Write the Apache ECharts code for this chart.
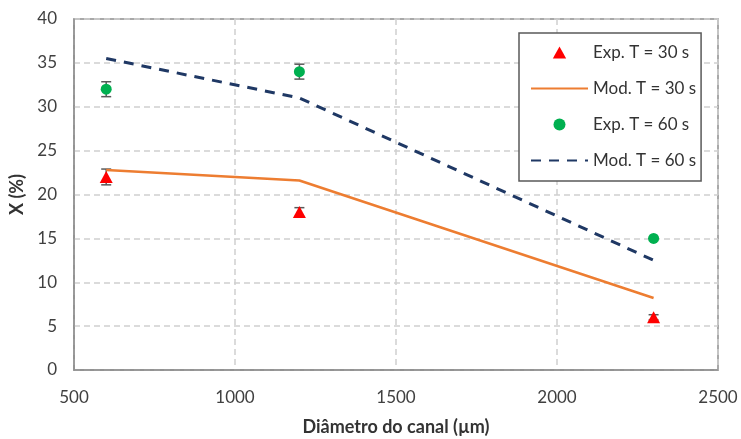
<!DOCTYPE html>
<html>
<head>
<meta charset="utf-8">
<script src="https://cdn.jsdelivr.net/npm/echarts@6/dist/echarts.min.js"></script>
<style>
  html, body { margin: 0; padding: 0; background: #fff; }
  #chart { width: 741px; height: 439px; }
</style>
</head>
<body>
<div id="chart"></div>
<script>
// channel diameters (µm)
const diameters = [600, 1200, 2300];

// experimental conversion X (%) with error half-widths
const exp30 = [22, 18, 6];
const exp30Err = [0.9, 0.5, 0.3];
const exp60 = [32, 34, 15];
const exp60Err = [0.85, 0.85, 0];

// model predictions
const mod30 = [22.8, 21.6, 8.2];
const mod60 = [35.5, 31, 12.5];

const FONT = 'Lato, "Open Sans", sans-serif';
const chart = echarts.init(document.getElementById('chart'));

const pairs = (ys) => diameters.map((x, i) => [x, ys[i]]);
const errData = (ys, err) => diameters.map((x, i) => [x, ys[i] - err[i], ys[i] + err[i]]);

// draws vertical error bar with caps via the axis scales
function errorBar(params, api) {
  const lo = api.coord([api.value(0), api.value(1)]);
  const hi = api.coord([api.value(0), api.value(2)]);
  const cap = 5;
  const style = { stroke: '#595959', lineWidth: 1.5 };
  return {
    type: 'group',
    children: [
      { type: 'line', shape: { x1: lo[0], y1: lo[1], x2: hi[0], y2: hi[1] }, style },
      { type: 'line', shape: { x1: lo[0] - cap, y1: lo[1], x2: lo[0] + cap, y2: lo[1] }, style },
      { type: 'line', shape: { x1: hi[0] - cap, y1: hi[1], x2: hi[0] + cap, y2: hi[1] }, style }
    ]
  };
}

const option = {
  animation: false,
  textStyle: { fontFamily: FONT },
  grid: {
    left: 74,
    right: 23,
    top: 19,
    bottom: 69,
    containLabel: false,
    outerBoundsMode: 'none',
    show: true,
    borderColor: '#8c8c8c',
    borderWidth: 1.5
  },
  legend: {
    orient: 'vertical',
    left: 519,
    top: 33,
    padding: [11, 5, 12, 11],
    itemWidth: 57,
    itemHeight: 12,
    itemGap: 19,
    borderColor: '#595959',
    borderWidth: 1.5,
    backgroundColor: '#fff',
    textStyle: { fontFamily: FONT, fontSize: 17, color: '#333' },
    data: [
      { name: 'Exp. T = 30 s', icon: 'path://M5,0L10,9L0,9Z' },
      { name: 'Mod. T = 30 s', itemStyle: { opacity: 0 } },
      { name: 'Exp. T = 60 s', icon: 'circle' },
      { name: 'Mod. T = 60 s', itemStyle: { opacity: 0 } }
    ]
  },
  xAxis: {
    type: 'value',
    min: 500,
    max: 2500,
    interval: 500,
    name: 'Diâmetro do canal (µm)',
    nameLocation: 'middle',
    nameGap: 48,
    nameTextStyle: { fontFamily: FONT, fontSize: 18, fontWeight: 'bold', color: '#333' },
    axisLine: { show: true, lineStyle: { color: '#8c8c8c', width: 1.5 } },
    axisTick: { show: false },
    axisLabel: { fontSize: 17, color: '#404040', margin: 19, formatter: (v) => String(v) },
    splitLine: { show: true, lineStyle: { color: '#d0d0d0', type: [6, 4], width: 1.5 } }
  },
  yAxis: {
    type: 'value',
    min: 0,
    max: 40,
    interval: 5,
    name: 'X (%)',
    nameLocation: 'middle',
    nameGap: 47,
    nameTextStyle: { fontFamily: FONT, fontSize: 18, fontWeight: 'bold', color: '#333' },
    axisLine: { show: true, lineStyle: { color: '#8c8c8c', width: 1.5 } },
    axisTick: { show: false },
    axisLabel: { fontSize: 17, color: '#404040', margin: 17 },
    splitLine: { show: true, lineStyle: { color: '#d0d0d0', type: [6, 4], width: 1.5 } }
  },
  series: [
    {
      name: 'err30',
      type: 'custom',
      renderItem: errorBar,
      encode: { x: 0, y: [1, 2] },
      data: errData(exp30, exp30Err),
      z: 3
    },
    {
      name: 'err60',
      type: 'custom',
      renderItem: errorBar,
      encode: { x: 0, y: [1, 2] },
      data: errData(exp60, exp60Err),
      z: 3
    },
    {
      name: 'Exp. T = 30 s',
      type: 'scatter',
      symbol: 'triangle',
      symbolSize: [13, 12],
      itemStyle: { color: '#ff0000', opacity: 1 },
      data: pairs(exp30),
      z: 4
    },
    {
      name: 'Mod. T = 30 s',
      type: 'line',
      symbol: 'none',
      lineStyle: { color: '#ed7d31', width: 2.5 },
      itemStyle: { color: '#ed7d31' },
      data: pairs(mod30),
      z: 5
    },
    {
      name: 'Exp. T = 60 s',
      type: 'scatter',
      symbol: 'circle',
      symbolSize: 11,
      itemStyle: { color: '#00b050', opacity: 1 },
      data: pairs(exp60),
      z: 4
    },
    {
      name: 'Mod. T = 60 s',
      type: 'line',
      symbol: 'none',
      lineStyle: { color: '#1f3864', width: 3, type: [10, 8] },
      itemStyle: { color: '#1f3864' },
      data: pairs(mod60),
      z: 5
    }
  ]
};

chart.setOption(option);
</script>
</body>
</html>
